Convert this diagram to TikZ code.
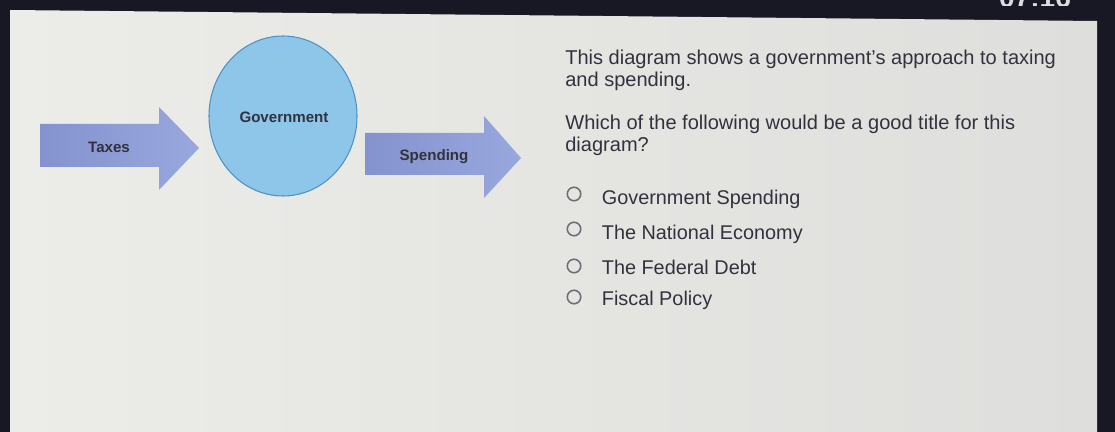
\documentclass[tikz,border=0pt]{standalone}
\usepackage{fontspec}
\setmainfont{Liberation Sans}
\usepackage{tikz}
\usetikzlibrary{positioning}
\usepackage{xcolor}
\definecolor{framedark}{RGB}{24, 24, 36}
\definecolor{screenlight}{RGB}{236, 236, 232}
\definecolor{screendim}{RGB}{222, 223, 220}
\definecolor{govblue}{RGB}{142, 198, 234}
\definecolor{govedge}{RGB}{78, 146, 196}
\definecolor{arrowdark}{RGB}{132, 146, 206}
\definecolor{arrowlight}{RGB}{152, 168, 222}
\definecolor{textdark}{RGB}{50, 50, 62}
\definecolor{optgray}{RGB}{110, 110, 118}

\begin{document}
\begin{tikzpicture}[x=0.02cm, y=-0.02cm,
    lbl/.style={font=\fontsize{8.6}{10}\selectfont\bfseries, text=textdark, inner sep=0pt},
    para/.style={font=\fontsize{11.4}{12.5}\selectfont, text=textdark, align=left, anchor=west, inner sep=0pt},
    opt/.style={font=\fontsize{11.3}{12.5}\selectfont, text=textdark, anchor=west, inner sep=0pt},
    radio/.style={circle, draw=optgray, line width=0.9pt, minimum size=0.27cm, inner sep=0pt}]
    \useasboundingbox (0,0) rectangle (1115,432);
    \fill[framedark] (0,0) rectangle (1115,432);
    \begin{scope}
        \clip (900,0) rectangle (1115,6);
        \node[font=\fontsize{16}{16}\selectfont\bfseries, text=white!85!framedark] (clock) at (1035,-2) {07:16};
    \end{scope}
    \shade[left color=screenlight, right color=screendim] (10,10) -- (1097,21) -- (1097,432) -- (10,432) -- cycle;

    \shade[left color=arrowdark, right color=arrowlight]
        (40,124) -- (159,124) -- (159,107) -- (199,148) -- (159,190) -- (159,167) -- (40,167) -- cycle;
    \node[lbl] (taxes) at (109,147) {Taxes};

    \fill[govblue] (283,116) ellipse (74 and 80);
    \draw[govedge, line width=0.6pt] (283,116) ellipse (74 and 80);
    \node[lbl] (gov) at (284,117) {Government};

    \shade[left color=arrowdark, right color=arrowlight]
        (365,133) -- (484,133) -- (484,116) -- (521,158) -- (484,198) -- (484,175) -- (365,175) -- cycle;
    \node[lbl] (spending) at (434,157) {Spending};

    \node[para] (intro) at (565,70) {This diagram shows a government's approach to taxing\\and spending.};
    \node[para] (question) at (565,135) {Which of the following would be a good title for this\\diagram?};

    \node[radio] (r1) at (574,194) {};
    \node[opt, right=0.4cm of r1, yshift=-0.1cm] (o1) {Government Spending};
    \node[radio] (r2) at (574,229) {};
    \node[opt, right=0.4cm of r2, yshift=-0.1cm] (o2) {The National Economy};
    \node[radio] (r3) at (574,266) {};
    \node[opt, right=0.4cm of r3, yshift=-0.02cm] (o3) {The Federal Debt};
    \node[radio] (r4) at (574,297) {};
    \node[opt, right=0.4cm of r4, yshift=-0.06cm] (o4) {Fiscal Policy};
\end{tikzpicture}
\end{document}
